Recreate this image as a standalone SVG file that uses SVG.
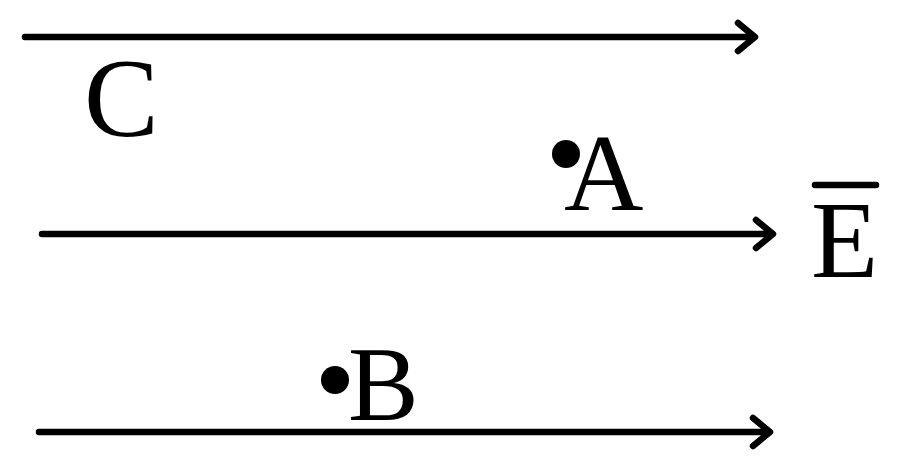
<svg xmlns="http://www.w3.org/2000/svg" width="900" height="469" viewBox="0 0 900 469">
<style>
.ln{stroke:#000;stroke-width:6.5;fill:none;stroke-linecap:round;stroke-linejoin:round}
.t{font-family:"Liberation Serif","Times New Roman",serif;fill:#000}
</style>
<rect width="900" height="469" fill="#fff"/>
<g id="connectors">
<path class="ln" d="M25 37 H753 M738 23 L755 37 L738 51"/>
<path class="ln" d="M42 234 H771 M756 220 L773 234 L756 248"/>
<path class="ln" d="M39 432 H768 M753 418 L770 432 L753 446"/>
</g>
<g id="C"><text class="t" x="84" y="136" font-size="112">C</text></g>
<g id="A"><circle cx="566" cy="154" r="14"/><text class="t" x="564" y="210" font-size="110">A</text></g>
<g id="B"><circle cx="335" cy="380" r="14"/><text class="t" x="348" y="420" font-size="106">B</text></g>
<g id="E"><line class="ln" x1="815" y1="185" x2="876" y2="185"/><text class="t" x="811" y="277" font-size="110">E</text></g>
</svg>
